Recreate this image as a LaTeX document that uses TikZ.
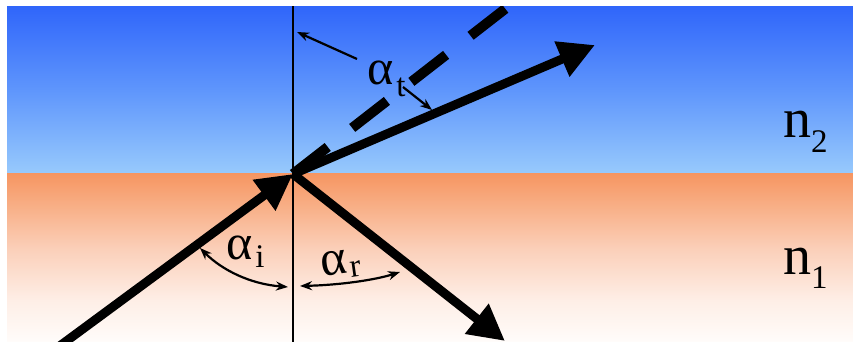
\documentclass[tikz,border=0pt]{standalone}
\usepackage{fontspec}
\setmainfont{Liberation Serif}
\usetikzlibrary{arrows.meta}
\definecolor{btop}{RGB}{48,102,250}
\definecolor{bmid}{RGB}{95,150,252}
\definecolor{bbot}{RGB}{152,202,252}
\definecolor{otop}{RGB}{246,150,98}
\definecolor{oa}{RGB}{248,176,136}
\definecolor{ob}{RGB}{251,208,186}
\definecolor{oc}{RGB}{254,238,230}
\definecolor{obot}{RGB}{255,252,250}
\pgfdeclareverticalshading{bluegrad}{100bp}{color(0bp)=(bbot); color(25bp)=(bbot); color(50bp)=(bmid); color(75bp)=(btop); color(100bp)=(btop)}
\pgfdeclareverticalshading{orgrad}{100bp}{color(0bp)=(obot); color(25bp)=(obot); color(37.5bp)=(oc); color(52.5bp)=(ob); color(65bp)=(oa); color(75bp)=(otop); color(100bp)=(otop)}
\newcommand\subsz{\fontsize{33}{33}\selectfont}
\begin{document}
\begin{tikzpicture}[x=1pt,y=1pt,
  ray/.style={line width=9pt,-{Triangle[length=36pt,width=36pt]}},
  dashray/.style={line width=10pt,dash pattern=on 44pt off 31pt},
  normalline/.style={line width=2pt},
  anglearrow/.style={line width=2.2pt,-{Stealth[length=12pt,width=9pt]}},
  anglearc/.style={line width=2.2pt,{Stealth[length=12pt,width=9pt]}-{Stealth[length=12pt,width=9pt]}},
  lab/.style={inner sep=0pt,font=\fontsize{50}{50}\selectfont},
  nlab/.style={inner sep=0pt,font=\fontsize{56}{56}\selectfont}]
\useasboundingbox (0,0) rectangle (853,342);
\fill[white] (0,0) rectangle (853,342);
\shade[shading=bluegrad] (7,168) rectangle (853,335);
\shade[shading=orgrad] (7,0) rectangle (853,168);
% points
\coordinate (O) at (293,168);
\coordinate (Ntop) at (293,340);
\coordinate (Nbot) at (293,-5);
\coordinate (I) at (57,-6);
\coordinate (R) at (505,1);
\coordinate (T) at (595,297);
\coordinate (D) at (514,340);
\begin{scope}
\clip (7,0) rectangle (853,335);
\draw[normalline] (Ntop) -- (Nbot);
\draw[dashray] (O) -- (D);
\draw[ray] (I) -- (O);
\draw[ray] (O) -- (R);
\draw[ray] (O) -- (T);
\end{scope}
% angle markers
\coordinate (at1) at (357,283);
\coordinate (at2) at (297,310);
\coordinate (at3) at (403,255);
\coordinate (at4) at (432,232);
\coordinate (ai1) at (200,94);
\coordinate (ai2) at (288,55);
\coordinate (ar1) at (300,56);
\coordinate (ar2) at (400,70);
\draw[anglearrow] (at1) -- (at2);
\draw[anglearrow] (at3) -- (at4);
\draw[anglearc] (ai1) .. controls (222,72) and (250,58) .. (ai2);
\draw[anglearc] (ar1) .. controls (340,57) and (375,62) .. (ar2);
% labels
\node[lab,anchor=base west] (lt) at (367,257) {α\hspace{3pt}\raisebox{-12pt}{\subsz t}};
\node[lab,anchor=base west] (li) at (226,82) {α\hspace{3pt}\raisebox{-8pt}{\subsz i}};
\node[lab,anchor=base west,rotate=8] (lr) at (322,65) {α\hspace{3pt}\raisebox{-5pt}{\subsz r}};
\node[nlab,anchor=base west] (n2) at (783,204) {n\raisebox{-15pt}{\subsz 2}};
\node[nlab,anchor=base west] (n1) at (783,67) {n\raisebox{-14pt}{\subsz 1}};
\end{tikzpicture}
\end{document}
